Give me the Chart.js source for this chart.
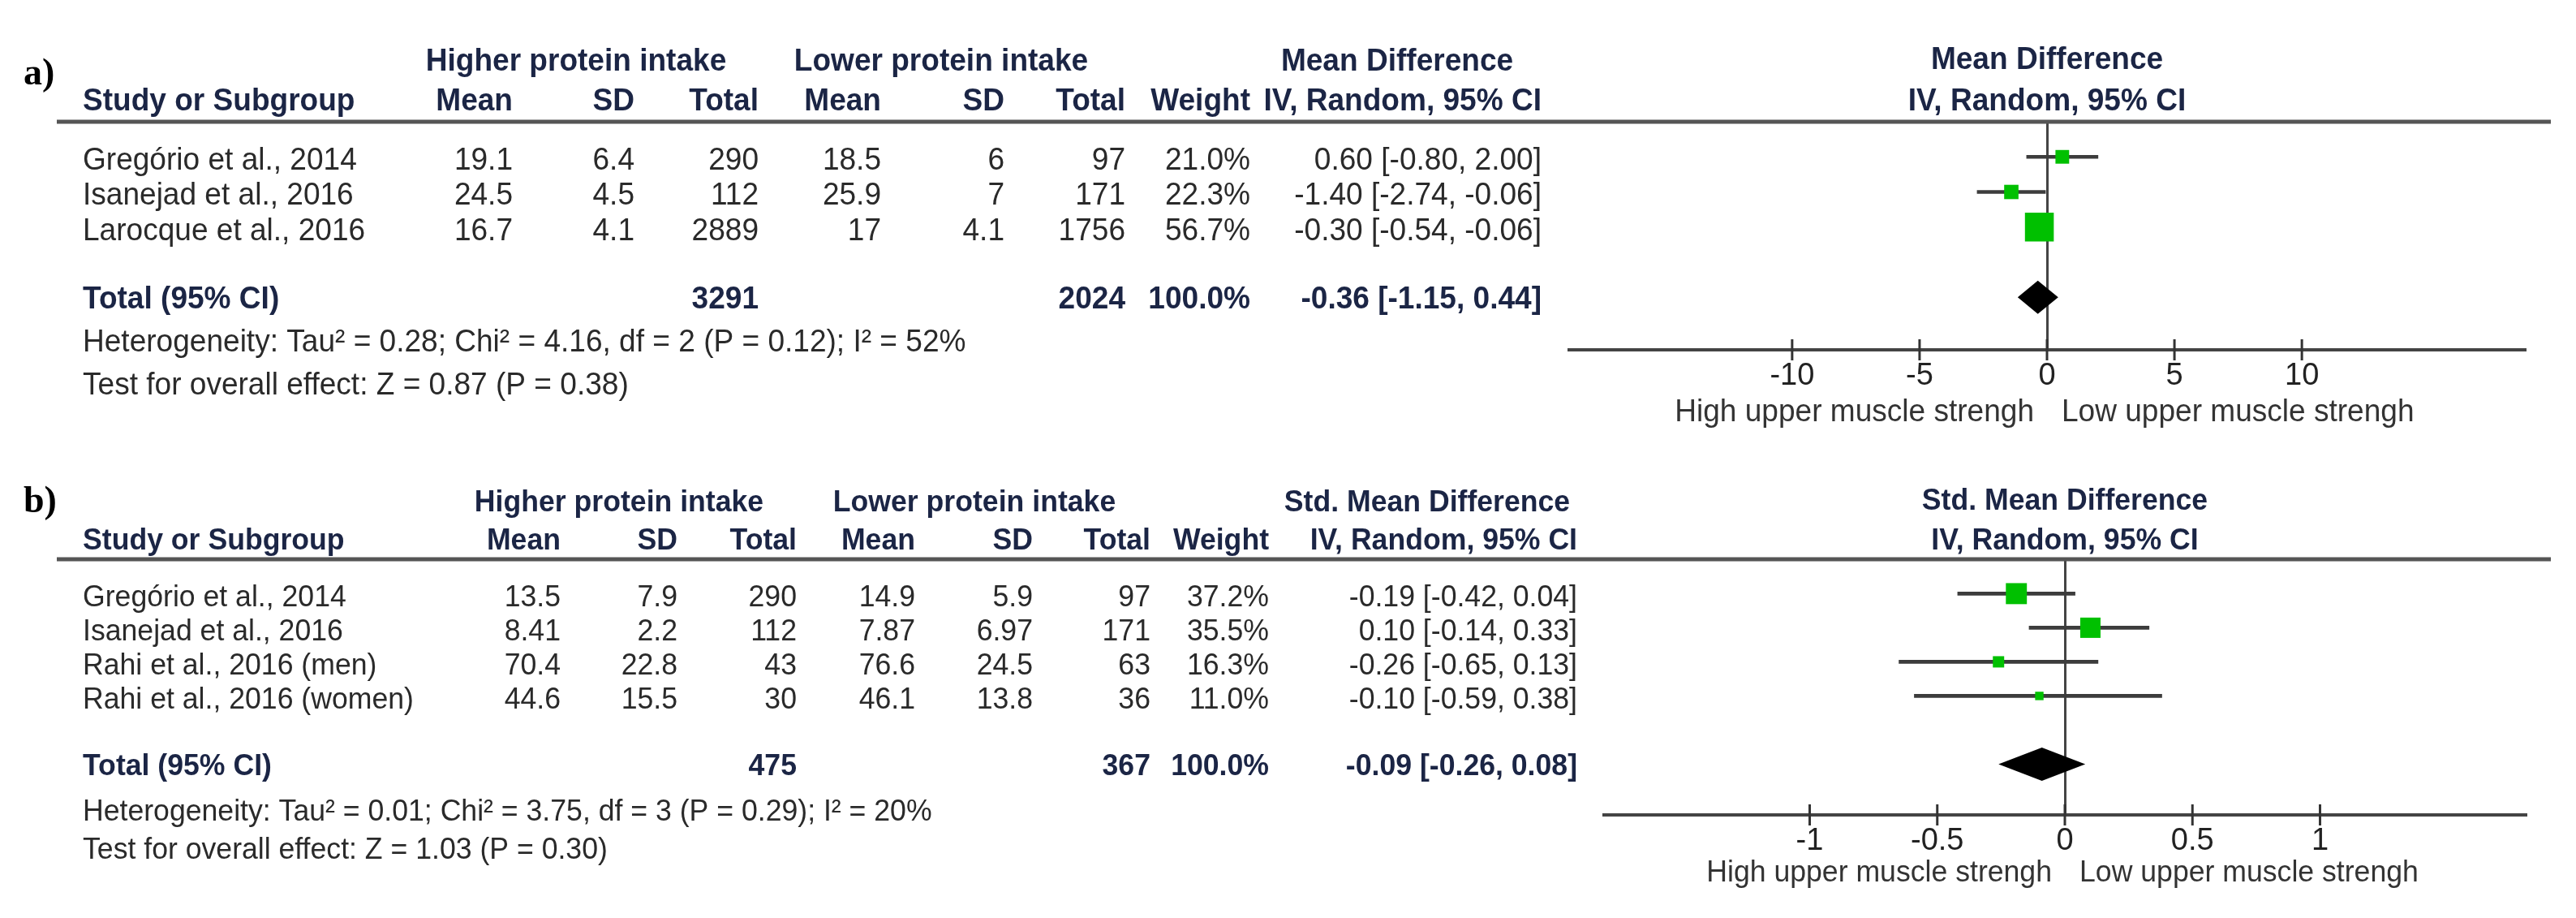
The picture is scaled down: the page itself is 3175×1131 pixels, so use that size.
<!DOCTYPE html>
<html>
<head>
<meta charset="utf-8">
<script src="https://cdn.jsdelivr.net/npm/chart.js@4.4.1/dist/chart.umd.min.js"></script>
<style>
  html, body { margin: 0; padding: 0; background: #fff; width: 3175px; height: 1131px; overflow: hidden; }
  canvas { position: absolute; left: 0; }
  #chartA { top: 0; }
  #chartB { top: 560px; }
</style>
</head>
<body>
<canvas id="chartA" width="3175" height="560"></canvas>
<canvas id="chartB" width="3175" height="571"></canvas>
<script>
// ---- panel a) mean difference ----
const studiesA = ['Gregório et al., 2014', 'Isanejad et al., 2016', 'Larocque et al., 2016'];
const hiMeanA = [19.1, 24.5, 16.7];
const hiSdA = [6.4, 4.5, 4.1];
const hiNA = [290, 112, 2889];
const loMeanA = [18.5, 25.9, 17];
const loSdA = [6, 7, 4.1];
const loNA = [97, 171, 1756];
const weightA = [21.0, 22.3, 56.7];
const estA = [0.60, -1.40, -0.30];
const ciLoA = [-0.80, -2.74, -0.54];
const ciHiA = [2.00, -0.06, -0.06];
const totalA = [3291, 2024, -0.36, -1.15, 0.44]; // nHigh, nLow, est, lo, hi
const hetA = 'Heterogeneity: Tau² = 0.28; Chi² = 4.16, df = 2 (P = 0.12); I² = 52%';
const testA = 'Test for overall effect: Z = 0.87 (P = 0.38)';
const ticksA = [-10, -5, 0, 5, 10];

// ---- panel b) standardised mean difference ----
const studiesB = ['Gregório et al., 2014', 'Isanejad et al., 2016', 'Rahi et al., 2016 (men)', 'Rahi et al., 2016 (women)'];
const hiMeanB = [13.5, 8.41, 70.4, 44.6];
const hiSdB = [7.9, 2.2, 22.8, 15.5];
const hiNB = [290, 112, 43, 30];
const loMeanB = [14.9, 7.87, 76.6, 46.1];
const loSdB = [5.9, 6.97, 24.5, 13.8];
const loNB = [97, 171, 63, 36];
const weightB = [37.2, 35.5, 16.3, 11.0];
const estB = [-0.19, 0.10, -0.26, -0.10];
const ciLoB = [-0.42, -0.14, -0.65, -0.59];
const ciHiB = [0.04, 0.33, 0.13, 0.38];
const totalB = [475, 367, -0.09, -0.26, 0.08];
const hetB = 'Heterogeneity: Tau² = 0.01; Chi² = 3.75, df = 3 (P = 0.29); I² = 20%';
const testB = 'Test for overall effect: Z = 1.03 (P = 0.30)';
const ticksB = [-1, -0.5, 0, 0.5, 1];

const FONT = 'Liberation Sans, Arial, sans-serif';
const NAVY = '#1b2545';
const INK = '#2a2a2a';
const GREEN = '#00c000';

const ciText = (e, l, h) => `${e.toFixed(2)} [${l.toFixed(2)}, ${h.toFixed(2)}]`;

const panelA = {
  tag: 'a)', tagY: 92, size: 39,
  area: { left: 1934, right: 3112, top: 150, bottom: 431, height: 560 },
  yRange: [-0.535, 5.03], xRange: [-18.75, 18.75], ticks: ticksA,
  cols: [632, 782, 935, 1086, 1238, 1387, 1541, 1900],
  groups: [['Higher protein intake', 710], ['Lower protein intake', 1160], ['Mean Difference', 1722]],
  effect: 'Mean Difference',
  groupDy: -74, colDy: -25, hetDy: 53, testDy: 106, footDy: 77,
  studies: studiesA, hiMean: hiMeanA, hiSd: hiSdA, hiN: hiNA,
  loMean: loMeanA, loSd: loSdA, loN: loNA, weight: weightA,
  est: estA, lo: ciLoA, hi: ciHiA, total: totalA, het: hetA, test: testA,
};

const panelB = {
  tag: 'b)', tagY: 59, size: 37.5,
  area: { left: 1977, right: 3113, top: 129, bottom: 444, height: 571 },
  yRange: [-0.54, 6.02], xRange: [-1.806, 1.806], ticks: ticksB,
  cols: [691, 835, 982, 1128, 1273, 1418, 1564, 1944],
  groups: [['Higher protein intake', 763], ['Lower protein intake', 1201], ['Std. Mean Difference', 1759]],
  effect: 'Std. Mean Difference',
  groupDy: -69, colDy: -22, hetDy: 56, testDy: 103, footDy: 72,
  studies: studiesB, hiMean: hiMeanB, hiSd: hiSdB, hiN: hiNB,
  loMean: loMeanB, loSd: loSdB, loN: loNB, weight: weightB,
  est: estB, lo: ciLoB, hi: ciHiB, total: totalB, het: hetB, test: testB,
};

const put = (ctx, str, x, y, align, font, color) => {
  ctx.save();
  ctx.translate(x, y);
  ctx.scale(0.95, 1);
  ctx.font = font;
  ctx.fillStyle = color;
  ctx.textAlign = align;
  ctx.textBaseline = 'middle';
  ctx.fillText(str, 0, 0);
  ctx.restore();
};

const makeForest = (canvasId, p) => {
  const AXIS_H = 80;
  const forestPlugin = {
    id: 'forest' + canvasId,
    afterDatasetsDraw(chart) {
      const { ctx, scales: { x, y } } = chart;
      // pooled diamond
      const [, , e, l, h] = p.total;
      const yt = y.getPixelForValue(p.studies.length + 1);
      ctx.save();
      ctx.beginPath();
      ctx.moveTo(x.getPixelForValue(l), yt);
      ctx.lineTo(x.getPixelForValue(e), yt - 20.5);
      ctx.lineTo(x.getPixelForValue(h), yt);
      ctx.lineTo(x.getPixelForValue(e), yt + 20.5);
      ctx.closePath();
      ctx.fillStyle = '#000';
      ctx.fill();
      ctx.restore();
    },
    afterDraw(chart) {
      const { ctx, chartArea: area, scales: { x, y } } = chart;
      const reg = `${p.size}px ${FONT}`;
      const bold = `bold ${p.size}px ${FONT}`;
      const zero = x.getPixelForValue(0);

      // top rule
      ctx.save();
      ctx.strokeStyle = '#555';
      ctx.lineWidth = 5;
      ctx.beginPath();
      ctx.moveTo(70, area.top);
      ctx.lineTo(3144, area.top);
      ctx.stroke();

      // tick crosses on the axis
      ctx.strokeStyle = '#333';
      ctx.lineWidth = 3;
      for (const t of x.ticks) {
        const px = x.getPixelForValue(t.value);
        ctx.beginPath();
        ctx.moveTo(px, area.bottom - 13);
        ctx.lineTo(px, area.bottom + 13);
        ctx.stroke();
      }
      ctx.restore();

      // panel tag
      ctx.save();
      ctx.font = `bold 46px Liberation Serif, serif`;
      ctx.fillStyle = '#000';
      ctx.textBaseline = 'middle';
      ctx.fillText(p.tag, 29, p.tagY);
      ctx.restore();

      // headers
      const gy = area.top + p.groupDy;
      const cy = area.top + p.colDy;
      for (const [label, cx] of p.groups) put(ctx, label, cx, gy, 'center', bold, NAVY);
      put(ctx, 'Study or Subgroup', 102, cy, 'left', bold, NAVY);
      const heads = ['Mean', 'SD', 'Total', 'Mean', 'SD', 'Total', 'Weight', 'IV, Random, 95% CI'];
      heads.forEach((hd, i) => put(ctx, hd, p.cols[i], cy, 'right', bold, NAVY));
      put(ctx, p.effect, zero, gy - 2, 'center', bold, NAVY);
      put(ctx, 'IV, Random, 95% CI', zero, cy, 'center', bold, NAVY);

      // study rows
      p.studies.forEach((name, i) => {
        const ry = y.getPixelForValue(i) + 5;
        const cells = [p.hiMean[i], p.hiSd[i], p.hiN[i], p.loMean[i], p.loSd[i], p.loN[i],
          p.weight[i].toFixed(1) + '%', ciText(p.est[i], p.lo[i], p.hi[i])];
        put(ctx, name, 102, ry, 'left', reg, INK);
        cells.forEach((c, k) => put(ctx, String(c), p.cols[k], ry, 'right', reg, INK));
      });

      // total row
      const ty = y.getPixelForValue(p.studies.length + 1) + 3;
      const [nh, nl, e, l, h] = p.total;
      put(ctx, 'Total (95% CI)', 102, ty, 'left', bold, NAVY);
      put(ctx, String(nh), p.cols[2], ty, 'right', bold, NAVY);
      put(ctx, String(nl), p.cols[5], ty, 'right', bold, NAVY);
      put(ctx, '100.0%', p.cols[6], ty, 'right', bold, NAVY);
      put(ctx, ciText(e, l, h), p.cols[7], ty, 'right', bold, NAVY);
      put(ctx, p.het, 102, ty + p.hetDy, 'left', reg, INK);
      put(ctx, p.test, 102, ty + p.testDy, 'left', reg, INK);

      // axis captions
      const fy = area.bottom + p.footDy;
      put(ctx, 'High upper muscle strengh', zero - 16, fy, 'right', reg, '#333');
      put(ctx, 'Low upper muscle strengh', zero + 18, fy, 'left', reg, '#333');
    },
  };

  return new Chart(document.getElementById(canvasId), {
    type: 'scatter',
    data: {
      datasets: [
        {
          type: 'bar',
          indexAxis: 'y',
          data: p.lo.map((l, i) => ({ x: [l, p.hi[i]], y: i })),
          backgroundColor: '#3c3c3c',
          borderWidth: 0,
          barThickness: 4,
          order: 2,
        },
        {
          type: 'scatter',
          data: p.est.map((v, i) => ({ x: v, y: i })),
          pointStyle: 'rect',
          pointRadius: p.weight.map(w => 0.86 * Math.pow(w, 0.75) / Math.SQRT1_2),
          backgroundColor: GREEN,
          borderWidth: 0,
          order: 1,
        },
      ],
    },
    options: {
      responsive: false,
      devicePixelRatio: 1,
      animation: false,
      events: [],
      layout: {
        padding: {
          left: p.area.left,
          right: 3175 - p.area.right,
          top: p.area.top,
          bottom: p.area.height - p.area.bottom - AXIS_H,
        },
      },
      plugins: { legend: { display: false }, tooltip: { enabled: false } },
      scales: {
        x: {
          type: 'linear',
          min: p.xRange[0],
          max: p.xRange[1],
          afterBuildTicks: (axis) => { axis.ticks = p.ticks.map(v => ({ value: v })); },
          afterFit: (axis) => { axis.height = AXIS_H; },
          border: { display: true, color: '#444', width: 4 },
          grid: {
            drawTicks: false,
            lineWidth: 3,
            color: (c) => (c.tick && c.tick.value === 0 ? '#444' : 'rgba(0,0,0,0)'),
          },
          ticks: {
            autoSkip: false,
            maxRotation: 0,
            padding: 10,
            color: '#222',
            font: { family: FONT, size: 38 },
            callback: (v) => String(v),
          },
        },
        y: {
          type: 'linear',
          display: false,
          reverse: true,
          min: p.yRange[0],
          max: p.yRange[1],
        },
      },
    },
    plugins: [forestPlugin],
  });
};

makeForest('chartA', panelA);
makeForest('chartB', panelB);
</script>
</body>
</html>
